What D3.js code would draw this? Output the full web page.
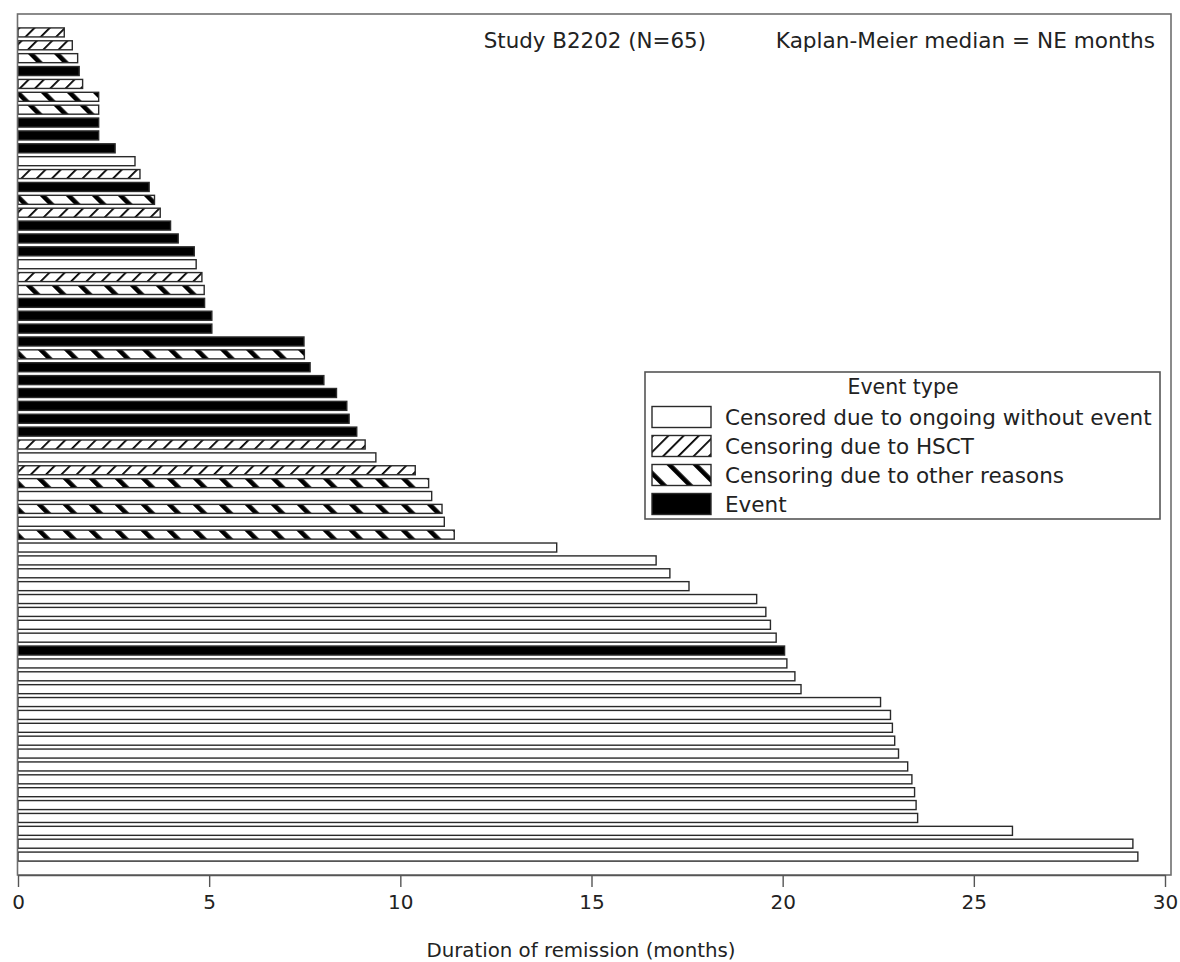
<!DOCTYPE html>
<html>
<head>
<meta charset="utf-8">
<script src="https://cdn.jsdelivr.net/npm/d3@7"></script>
<style>
  html, body { margin: 0; padding: 0; background: #fff; }
  svg { display: block; font-family: "DejaVu Sans", Verdana, sans-serif; }
</style>
</head>
<body>
<svg id="chart" width="1180" height="962"></svg>
<script>
// Duration of remission per patient (months), sorted ascending, top to bottom
const durations = [
  1.21, 1.42, 1.56, 1.60, 1.69, 2.11, 2.11, 2.11, 2.11, 2.54,
  3.06, 3.19, 3.43, 3.57, 3.72, 3.99, 4.19, 4.61, 4.66, 4.81,
  4.87, 4.88, 5.07, 5.07, 7.48, 7.49, 7.64, 8.00, 8.33, 8.60,
  8.66, 8.86, 9.08, 9.36, 10.39, 10.74, 10.82, 11.09, 11.15, 11.41,
  14.09, 16.69, 17.05, 17.55, 19.32, 19.56, 19.68, 19.83, 20.05, 20.11,
  20.32, 20.48, 22.56, 22.82, 22.87, 22.93, 23.03, 23.27, 23.38, 23.45,
  23.49, 23.53, 26.01, 29.16, 29.29
];
// Event type per patient: C = censored (ongoing), H = censored (HSCT),
// O = censored (other reasons), E = event
const eventTypes = [
  "H","H","O","E","H","O","O","E","E","E",
  "C","H","E","O","H","E","E","E","C","H",
  "O","E","E","E","E","O","E","E","E","E",
  "E","E","H","C","H","O","C","O","C","O",
  "C","C","C","C","C","C","C","C","E","C",
  "C","C","C","C","C","C","C","C","C","C",
  "C","C","C","C","C"
];
const legendKeys = ["C", "H", "O", "E"];
const legendLabels = [
  "Censored due to ongoing without event",
  "Censoring due to HSCT",
  "Censoring due to other reasons",
  "Event"
];
const xTicks = [0, 5, 10, 15, 20, 25, 30];
const studyLabel = "Study B2202 (N=65)";
const medianLabel = "Kaplan-Meier median = NE months";
const xTitle = "Duration of remission (months)";

const svg = d3.select("#chart");
const frame = { left: 17.5, right: 1171, top: 14, bottom: 875 };

// fills for each event type
const defs = svg.append("defs");
const hsct = defs.append("pattern")
  .attr("id", "pat-hsct").attr("patternUnits", "userSpaceOnUse")
  .attr("width", 10.8).attr("height", 10.8)
  .attr("patternTransform", "rotate(45)");
hsct.append("rect").attr("width", 10.8).attr("height", 10.8).attr("fill", "#fff");
hsct.append("rect").attr("x", 0).attr("width", 1.8).attr("height", 10.8).attr("fill", "#000");

const other = defs.append("pattern")
  .attr("id", "pat-other").attr("patternUnits", "userSpaceOnUse")
  .attr("width", 18.4).attr("height", 18.4)
  .attr("patternTransform", "rotate(-45)");
other.append("rect").attr("width", 18.4).attr("height", 18.4).attr("fill", "#fff");
other.append("rect").attr("x", 0).attr("width", 4.6).attr("height", 18.4).attr("fill", "#000");

const fillFor = {
  C: "#fff",
  H: "url(#pat-hsct)",
  O: "url(#pat-other)",
  E: "#000"
};

const x = d3.scaleLinear().domain([0, 30]).range([18, 1165]);
const y = d3.scaleBand()
  .domain(d3.range(durations.length))
  .range([frame.top, frame.bottom])
  .paddingInner(0.3)
  .paddingOuter(1.08);

// bars
svg.append("g").selectAll("rect")
  .data(durations)
  .join("rect")
  .attr("x", x(0))
  .attr("y", (d, i) => y(i))
  .attr("width", d => x(d) - x(0))
  .attr("height", y.bandwidth())
  .attr("fill", (d, i) => fillFor[eventTypes[i]])
  .attr("stroke", "#2a2a2a")
  .attr("stroke-width", 1.4);

// plot frame
svg.append("rect")
  .attr("x", frame.left).attr("y", frame.top)
  .attr("width", frame.right - frame.left).attr("height", frame.bottom - frame.top)
  .attr("fill", "none").attr("stroke", "#6e6e6e").attr("stroke-width", 1.6);

// x axis
const axis = svg.append("g")
  .attr("transform", `translate(0,${frame.bottom})`)
  .call(d3.axisBottom(x).tickValues(xTicks).tickSize(12).tickPadding(8).tickSizeOuter(0));
axis.select(".domain").attr("stroke", "#555").attr("stroke-width", 1.6);
axis.selectAll(".tick line").attr("stroke", "#555").attr("stroke-width", 1.4);
axis.selectAll(".tick text")
  .attr("fill", "#222").style("font-size", "20px")
  .style("font-family", "'DejaVu Sans', Verdana, sans-serif");

svg.append("text")
  .attr("x", 581).attr("y", 957)
  .attr("text-anchor", "middle")
  .attr("fill", "#222").style("font-size", "19.8px")
  .text(xTitle);

// header annotations
svg.append("text")
  .attr("x", 706).attr("y", 48).attr("text-anchor", "end")
  .attr("fill", "#222").style("font-size", "21.4px")
  .text(studyLabel);
svg.append("text")
  .attr("x", 1155).attr("y", 48).attr("text-anchor", "end")
  .attr("fill", "#222").style("font-size", "21.6px")
  .text(medianLabel);

// legend
const lg = svg.append("g");
lg.append("rect")
  .attr("x", 645).attr("y", 372).attr("width", 515).attr("height", 147)
  .attr("fill", "#fff").attr("stroke", "#555").attr("stroke-width", 1.6);
lg.append("text")
  .attr("x", 903).attr("y", 394).attr("text-anchor", "middle")
  .attr("fill", "#222").style("font-size", "20.5px")
  .text("Event type");
const rowY = d3.scalePoint().domain(legendKeys).range([417, 504]);
const rows = lg.selectAll("g.row").data(legendKeys).join("g").attr("class", "row")
  .attr("transform", k => `translate(0,${rowY(k)})`);
rows.append("rect")
  .attr("x", 652).attr("y", -10.5).attr("width", 59).attr("height", 21)
  .attr("fill", k => fillFor[k])
  .attr("stroke", "#2a2a2a").attr("stroke-width", 1.4);
rows.append("text")
  .attr("x", 725).attr("y", 7.5)
  .attr("fill", "#222").style("font-size", "21.5px")
  .text((k, i) => legendLabels[i]);
</script>
</body>
</html>
